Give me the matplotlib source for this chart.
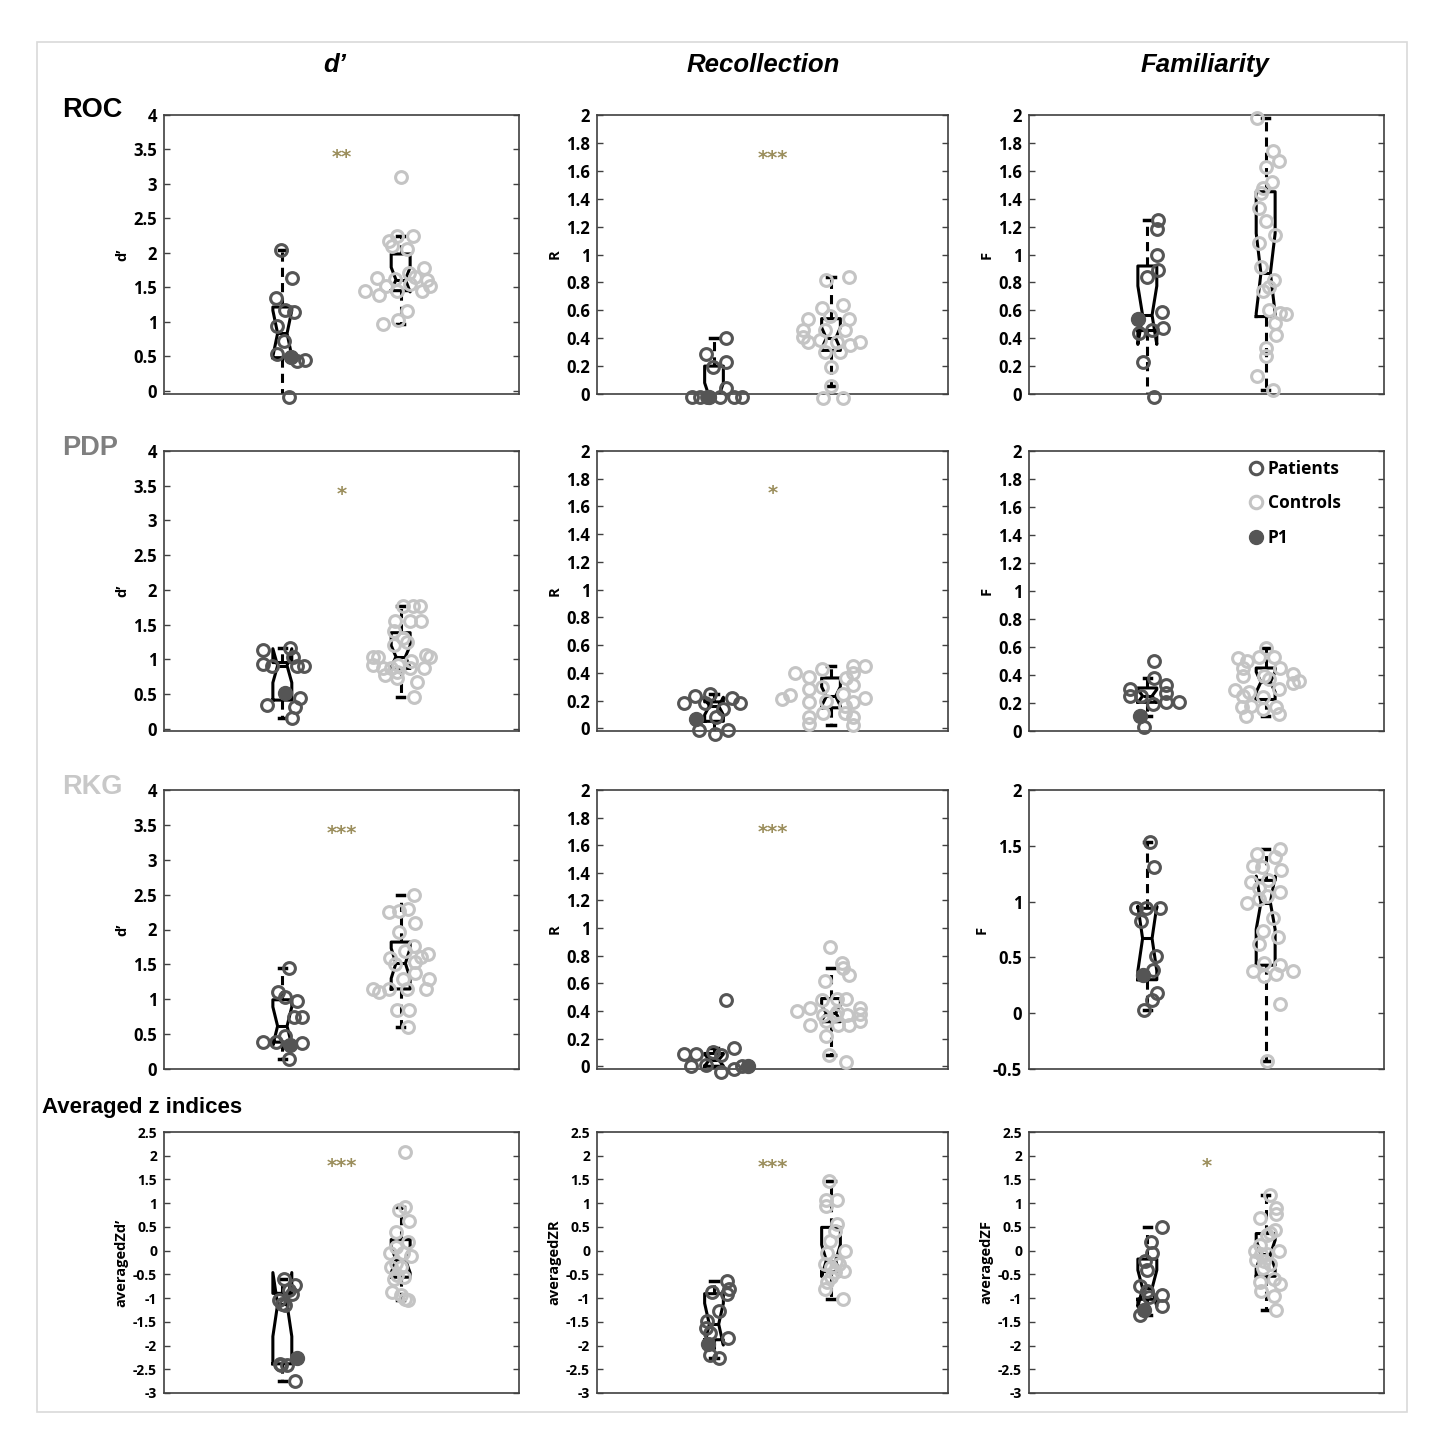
import matplotlib.pyplot as plt
from matplotlib.lines import Line2D
from matplotlib.patches import Rectangle
from matplotlib.ticker import FuncFormatter
import numpy as np

plt.rcParams['font.family'] = ['Open Sans', 'DejaVu Sans']

# ---------------- data (x = jittered group position, y = value) ----------------
# ROC
roc_d_pat_x = [0.99, 1.085, 0.944, 1.02, 1.10, 0.953, 1.014, 0.953, 1.12, 1.19, 1.054]
roc_d_pat_y = [2.04, 1.63, 1.34, 1.17, 1.14, 0.94, 0.72, 0.53, 0.43, 0.44, -0.10]
roc_d_p1 = (1.073, 0.49)
roc_d_ctl_x = [2.00, 1.90, 1.97, 2.10, 2.05, 1.93, 2.20, 1.80, 2.07, 1.95, 1.70,
               1.82, 1.97, 2.18, 2.25, 2.08, 1.88, 2.05, 1.85, 1.98, 2.12, 2.22]
roc_d_ctl_y = [3.10, 2.17, 2.25, 2.25, 2.05, 2.10, 1.78, 1.63, 1.70, 1.62, 1.44,
               1.38, 1.45, 1.45, 1.52, 1.55, 1.52, 1.16, 0.97, 1.02, 1.65, 1.60]

roc_r_pat_x = [1.10, 0.93, 1.10, 0.99, 1.10, 0.81, 0.88, 0.94, 1.05, 1.17, 1.24]
roc_r_pat_y = [0.40, 0.29, 0.23, 0.19, 0.04, -0.02, -0.02, -0.02, -0.02, -0.02, -0.02]
roc_r_p1 = (0.96, -0.02)
roc_r_ctl_x = [1.96, 2.15, 1.92, 2.10, 1.80, 1.99, 2.15, 1.76, 1.95, 2.12, 1.80,
               1.91, 2.05, 2.25, 1.76, 2.08, 1.95, 2.00, 2.00, 1.93, 2.10, 2.16]
roc_r_ctl_y = [0.82, 0.84, 0.62, 0.64, 0.54, 0.56, 0.54, 0.46, 0.46, 0.46, 0.37,
               0.39, 0.37, 0.37, 0.41, 0.30, 0.30, 0.19, 0.06, -0.03, -0.03, 0.35]

roc_f_pat_x = [1.09, 1.08, 1.08, 1.09, 0.995, 1.12, 0.93, 1.04, 1.135, 0.96, 1.06]
roc_f_pat_y = [1.25, 1.18, 1.00, 0.89, 0.84, 0.59, 0.44, 0.46, 0.47, 0.23, -0.02]
roc_f_p1 = (0.92, 0.54)
roc_f_ctl_x = [1.925, 2.06, 2.11, 2.00, 2.05, 1.98, 1.96, 1.94, 2.00, 2.08, 1.94, 1.96,
               2.07, 2.03, 1.98, 2.03, 2.12, 2.17, 2.08, 2.09, 2.00, 2.00, 1.93, 2.06]
roc_f_ctl_y = [1.98, 1.74, 1.67, 1.63, 1.52, 1.48, 1.44, 1.33, 1.24, 1.14, 1.08, 0.91,
               0.82, 0.77, 0.74, 0.60, 0.58, 0.57, 0.51, 0.42, 0.33, 0.27, 0.13, 0.03]

# PDP
pdp_d_pat_x = [0.84, 1.065, 0.84, 0.91, 1.09, 1.12, 1.18, 0.87, 1.15, 1.11, 1.085]
pdp_d_pat_y = [1.13, 1.17, 0.93, 0.91, 1.03, 0.91, 0.91, 0.34, 0.44, 0.32, 0.16]
pdp_d_p1 = (1.025, 0.51)
pdp_d_ctl_x = [2.02, 2.10, 2.16, 1.95, 2.08, 2.17, 1.94, 2.02, 1.94, 2.05, 1.77, 1.81, 2.25,
               2.21, 1.77, 1.85, 1.92, 2.09, 2.08, 2.20, 1.87, 1.97, 2.14, 2.11, 1.98, 1.97]
pdp_d_ctl_y = [1.77, 1.77, 1.77, 1.56, 1.56, 1.56, 1.41, 1.31, 1.21, 1.25, 1.04, 1.04, 1.04,
               1.07, 0.92, 0.87, 0.87, 0.98, 0.87, 0.87, 0.78, 0.73, 0.67, 0.46, 0.92, 0.82]

pdp_r_pat_x = [0.74, 0.84, 0.97, 1.15, 1.22, 0.92, 1.08, 1.02, 0.87, 1.12, 1.01]
pdp_r_pat_y = [0.18, 0.23, 0.25, 0.22, 0.18, 0.18, 0.14, 0.08, -0.01, -0.01, -0.04]
pdp_r_p1 = (0.85, 0.07)
pdp_r_ctl_x = [1.69, 1.81, 1.92, 2.19, 2.29, 2.19, 2.13, 2.19, 1.58, 1.65, 1.81, 1.92,
               1.81, 1.96, 2.10, 2.19, 2.29, 2.12, 1.81, 1.81, 1.93, 2.12, 2.19, 2.19]
pdp_r_ctl_y = [0.40, 0.37, 0.43, 0.45, 0.45, 0.40, 0.36, 0.31, 0.21, 0.24, 0.28, 0.30,
               0.19, 0.20, 0.25, 0.19, 0.22, 0.16, 0.08, 0.03, 0.11, 0.11, 0.08, 0.02]

pdp_f_pat_x = [1.06, 1.06, 1.16, 0.85, 0.85, 0.95, 1.16, 1.05, 1.16, 1.27, 0.97]
pdp_f_pat_y = [0.50, 0.38, 0.33, 0.30, 0.25, 0.25, 0.27, 0.19, 0.21, 0.21, 0.03]
pdp_f_p1 = (0.94, 0.11)
pdp_f_ctl_x = [1.77, 1.84, 1.94, 2.00, 2.07, 2.12, 2.23, 2.28, 2.23, 1.81, 1.81, 1.99,
               2.03, 1.74, 1.81, 1.86, 2.11, 1.98, 1.80, 1.88, 2.09, 1.83, 2.11, 1.98]
pdp_f_ctl_y = [0.52, 0.50, 0.53, 0.59, 0.53, 0.45, 0.41, 0.36, 0.34, 0.45, 0.39, 0.39,
               0.37, 0.29, 0.25, 0.28, 0.30, 0.24, 0.17, 0.18, 0.17, 0.11, 0.12, 0.16]

# RKG
rkg_d_pat_x = [1.06, 0.96, 1.02, 1.12, 1.10, 1.17, 0.84, 0.95, 1.02, 1.17, 1.06]
rkg_d_pat_y = [1.45, 1.11, 1.03, 0.98, 0.75, 0.75, 0.39, 0.39, 0.48, 0.37, 0.14]
rkg_d_p1 = (1.065, 0.34)
rkg_d_ctl_x = [2.11, 1.90, 1.99, 2.06, 2.12, 1.99, 2.11, 1.91, 1.95, 2.04, 2.12, 2.17,
               2.23, 2.12, 2.02, 2.24, 1.77, 1.82, 1.90, 2.05, 2.21, 1.97, 2.07, 2.06]
rkg_d_ctl_y = [2.49, 2.25, 2.26, 2.29, 2.09, 1.97, 1.77, 1.59, 1.50, 1.69, 1.53, 1.60,
               1.65, 1.37, 1.29, 1.29, 1.15, 1.11, 1.14, 1.14, 1.15, 0.85, 0.85, 0.60]

rkg_r_pat_x = [1.10, 1.17, 0.74, 0.85, 0.99, 1.06, 0.80, 0.93, 1.06, 1.17, 1.24]
rkg_r_pat_y = [0.48, 0.13, 0.09, 0.09, 0.10, 0.08, 0.00, 0.01, -0.04, -0.02, 0.00]
rkg_r_p1 = (1.29, 0.00)
rkg_r_ctl_x = [1.99, 2.09, 2.10, 2.15, 1.95, 2.05, 2.13, 1.92, 1.71, 1.82, 2.25, 2.25,
               1.93, 2.05, 2.14, 1.82, 1.96, 2.06, 2.15, 2.25, 1.96, 1.98, 2.13, 2.03]
rkg_r_ctl_y = [0.86, 0.75, 0.71, 0.66, 0.62, 0.49, 0.49, 0.48, 0.40, 0.42, 0.42, 0.38,
               0.37, 0.39, 0.37, 0.30, 0.33, 0.30, 0.30, 0.33, 0.22, 0.08, 0.03, 0.37]

rkg_f_pat_x = [1.02, 1.06, 0.90, 0.99, 1.11, 0.95, 1.07, 1.05, 1.08, 1.04, 0.97]
rkg_f_pat_y = [1.53, 1.31, 0.94, 0.94, 0.94, 0.83, 0.51, 0.39, 0.18, 0.12, 0.03]
rkg_f_p1 = (0.96, 0.34)
rkg_f_ctl_x = [2.12, 1.925, 2.08, 1.89, 1.97, 2.13, 1.88, 2.02, 1.94, 2.12, 1.84, 1.94, 2.01,
               2.06, 1.98, 2.10, 1.94, 1.89, 1.99, 1.99, 2.09, 2.12, 2.23, 2.12, 2.01]
rkg_f_ctl_y = [1.47, 1.43, 1.40, 1.32, 1.31, 1.28, 1.18, 1.19, 1.12, 1.09, 0.99, 1.02, 1.05,
               0.85, 0.74, 0.68, 0.62, 0.38, 0.45, 0.33, 0.35, 0.43, 0.38, 0.08, -0.43]

# Averaged z indices
avg_d_pat_x = [1.01, 1.11, 1.06, 0.97, 1.02, 0.99, 1.04, 1.11, 1.08, 1.00, 0.98]
avg_d_pat_y = [-0.59, -0.72, -0.84, -1.05, -1.15, -2.40, -2.42, -2.75, -0.92, -1.12, -2.38]
avg_d_p1 = (1.12, -2.26)
avg_d_ctl_x = [2.04, 2.04, 1.99, 2.07, 1.96, 2.06, 1.91, 2.09, 1.96, 1.92, 2.00, 2.03, 1.94,
               1.93, 2.00, 2.04, 2.06, 1.96, 1.97, 2.02]
avg_d_ctl_y = [2.08, 0.92, 0.85, 0.62, 0.39, 0.18, -0.06, -0.11, -0.27, -0.34, -0.34, -0.55,
               -0.59, -0.87, -0.94, -1.01, -1.05, 0.08, -0.52, -0.06]

avg_r_pat_x = [1.11, 1.13, 1.11, 0.98, 1.04, 0.94, 0.93, 0.97, 1.12, 0.97, 1.04]
avg_r_pat_y = [-0.63, -0.81, -0.92, -0.87, -1.27, -1.48, -1.62, -1.73, -1.85, -2.19, -2.26]
avg_r_p1 = (0.95, -1.96)
avg_r_ctl_x = [1.98, 1.96, 1.96, 2.05, 2.05, 2.03, 1.99, 1.97, 2.12, 1.95, 2.00, 2.07, 2.11,
               2.03, 1.97, 1.95, 2.10, 2.00, 2.04]
avg_r_ctl_y = [1.47, 1.06, 0.95, 1.06, 0.56, 0.42, 0.21, -0.04, 0.00, -0.28, -0.35, -0.28,
               -0.42, -0.46, -0.67, -0.81, -1.02, -0.56, -0.21]

avg_f_pat_x = [1.12, 1.03, 1.04, 0.98, 1.00, 0.94, 1.00, 1.12, 1.12, 1.01, 0.94]
avg_f_pat_y = [0.49, 0.19, -0.05, -0.22, -0.40, -0.74, -0.85, -0.94, -1.16, -0.98, -1.35]
avg_f_p1 = (0.97, -1.25)
avg_f_ctl_x = [2.04, 2.09, 2.09, 1.95, 2.04, 2.08, 2.01, 1.95, 2.11, 1.91, 1.96, 1.92, 1.99,
               1.98, 2.04, 2.07, 2.12, 1.95, 1.96, 2.07, 2.09, 2.01]
avg_f_ctl_y = [1.17, 0.89, 0.78, 0.68, 0.37, 0.44, 0.33, 0.12, 0.00, 0.00, -0.08, -0.19,
               -0.22, -0.36, -0.29, -0.60, -0.71, -0.67, -0.85, -0.95, -1.26, -0.08]

col_titles = ["d\u2019", "Recollection", "Familiarity"]
row_titles = ["ROC", "PDP", "RKG", "Averaged z indices"]
row_title_colors = ["black", "#7f7f7f", "#c8c8c8", "black"]
ylabels = [["d\u2019", "R", "F"], ["d\u2019", "R", "F"], ["d\u2019", "R", "F"],
           ["averagedZd\u2019", "averagedZR", "averagedZF"]]
stars = [["**", "***", ""], ["*", "*", ""], ["***", "***", ""], ["***", "***", "*"]]

panels = [
    [(roc_d_pat_x, roc_d_pat_y, roc_d_p1, roc_d_ctl_x, roc_d_ctl_y),
     (roc_r_pat_x, roc_r_pat_y, roc_r_p1, roc_r_ctl_x, roc_r_ctl_y),
     (roc_f_pat_x, roc_f_pat_y, roc_f_p1, roc_f_ctl_x, roc_f_ctl_y)],
    [(pdp_d_pat_x, pdp_d_pat_y, pdp_d_p1, pdp_d_ctl_x, pdp_d_ctl_y),
     (pdp_r_pat_x, pdp_r_pat_y, pdp_r_p1, pdp_r_ctl_x, pdp_r_ctl_y),
     (pdp_f_pat_x, pdp_f_pat_y, pdp_f_p1, pdp_f_ctl_x, pdp_f_ctl_y)],
    [(rkg_d_pat_x, rkg_d_pat_y, rkg_d_p1, rkg_d_ctl_x, rkg_d_ctl_y),
     (rkg_r_pat_x, rkg_r_pat_y, rkg_r_p1, rkg_r_ctl_x, rkg_r_ctl_y),
     (rkg_f_pat_x, rkg_f_pat_y, rkg_f_p1, rkg_f_ctl_x, rkg_f_ctl_y)],
    [(avg_d_pat_x, avg_d_pat_y, avg_d_p1, avg_d_ctl_x, avg_d_ctl_y),
     (avg_r_pat_x, avg_r_pat_y, avg_r_p1, avg_r_ctl_x, avg_r_ctl_y),
     (avg_f_pat_x, avg_f_pat_y, avg_f_p1, avg_f_ctl_x, avg_f_ctl_y)],
]

# axis ranges and tick steps
ylims = [[(-0.05, 4), (0, 2), (0, 2)],
         [(-0.03, 4), (-0.02, 2), (0, 2)],
         [(0, 4), (-0.02, 2), (-0.5, 2)],
         [(-3, 2.5), (-3, 2.5), (-3, 2.5)]]
ysteps = [[0.5, 0.2, 0.2], [0.5, 0.2, 0.2], [0.5, 0.2, 0.5], [0.5, 0.5, 0.5]]
star_y = [[3.38, 1.69, 0], [3.38, 1.69, 0], [3.38, 1.69, 0], [1.78, 1.76, 1.78]]

# ---------------- layout (pixel boxes of the reference) ----------------
W, H = 1443, 1437
col_px = [(164, 355), (597, 351), (1029, 355)]
row_px = [(115, 394), (451, 731), (790, 1069), (1132, 1393)]

pat_col = "#555555"
ctl_col = "#c4c4c4"
star_col = "#9b8e5c"

fig = plt.figure(figsize=(W / 100, H / 100), dpi=100)
fig.patches.append(Rectangle((37 / W, 1 - 1412 / H), 1370 / W, 1370 / H,
                             transform=fig.transFigure, fill=False,
                             edgecolor="#d9d9d9", lw=1.2))

tick_fmt = FuncFormatter(lambda v, p: "0" if abs(v) < 1e-9 else "%g" % round(v, 3))

for r in range(4):
    top, bot = row_px[r]
    for c in range(3):
        left, wid = col_px[c]
        ax = fig.add_axes([left / W, 1 - bot / H, wid / W, (bot - top) / H])
        pat_x, pat_y, p1, ctl_x, ctl_y = panels[r][c]

        pat_all = list(pat_y) + [p1[1]]
        ax.boxplot([pat_all, ctl_y], positions=[1, 2], widths=0.16, notch=True,
                   showfliers=False, capwidths=0.06,
                   boxprops=dict(color="black", lw=2.2),
                   medianprops=dict(color="black", lw=2.2),
                   whiskerprops=dict(color="black", lw=2.2, ls=(0, (3, 2))),
                   capprops=dict(color="black", lw=2.5), zorder=2)

        ax.plot(ctl_x, ctl_y, "o", ms=8.5, mfc="none", mec=ctl_col, mew=2.2,
                clip_on=False, zorder=3)
        ax.plot(pat_x, pat_y, "o", ms=8.5, mfc="none", mec=pat_col, mew=2.2,
                clip_on=False, zorder=4)
        ax.plot([p1[0]], [p1[1]], "o", ms=10, mfc=pat_col, mec=pat_col,
                clip_on=False, zorder=5)

        if stars[r][c]:
            ax.text(1.5, star_y[r][c], stars[r][c], color=star_col, ha="center",
                    va="center", fontsize=14, fontweight="bold",
                    family=["DejaVu Sans"])

        lo, hi = ylims[r][c]
        ax.set_xlim(0, 3)
        ax.set_ylim(lo, hi)
        step = ysteps[r][c]
        start = np.ceil(lo / step - 1e-9) * step
        ticks = np.round(np.arange(start, hi + 1e-9, step), 3) + 0.0
        ax.set_yticks(ticks)
        ax.yaxis.set_major_formatter(tick_fmt)
        ax.set_xticks([])
        fs = 10 if r == 3 else 12
        ax.tick_params(axis="y", direction="in", right=True, length=4,
                       width=1, labelsize=fs, pad=5, color="#404040")
        for lab in ax.get_yticklabels():
            lab.set_fontweight("bold")
        ax.set_ylabel(ylabels[r][c], fontsize=10.5, fontweight="bold", labelpad=3)
        for sp in ax.spines.values():
            sp.set_color("#404040")
            sp.set_linewidth(1.2)

        if r == 1 and c == 2:
            handles = [Line2D([], [], ls="none", marker="o", ms=9, mfc="none",
                              mec=pat_col, mew=2.2),
                       Line2D([], [], ls="none", marker="o", ms=9, mfc="none",
                              mec=ctl_col, mew=2.2),
                       Line2D([], [], ls="none", marker="o", ms=10, mfc=pat_col,
                              mec=pat_col)]
            ax.legend(handles, ["Patients", "Controls", "P1"],
                      loc="upper left", bbox_to_anchor=(0.565, 1.025),
                      frameon=False, handletextpad=0.1, labelspacing=0.95,
                      handlelength=1.2, prop=dict(size=12.5, weight="bold"))

# column titles
col_centers = [335, 763, 1205]
for cx, t in zip(col_centers, col_titles):
    fig.text(cx / W, 1 - 65 / H, t, ha="center", va="center", fontsize=18.5,
             fontstyle="italic", fontweight="bold", family=["Liberation Sans"])

# row titles
row_pos = [(62, 110), (62, 448), (62, 787), (42, 1107)]
row_sizes = [19.5, 19.5, 19.5, 16]
for (x, y), t, col, s in zip(row_pos, row_titles, row_title_colors, row_sizes):
    fig.text(x / W, 1 - y / H, t, ha="left", va="center", fontsize=s,
             fontweight="bold", color=col, family=["Liberation Sans"])

plt.savefig("out.png", dpi=100)
